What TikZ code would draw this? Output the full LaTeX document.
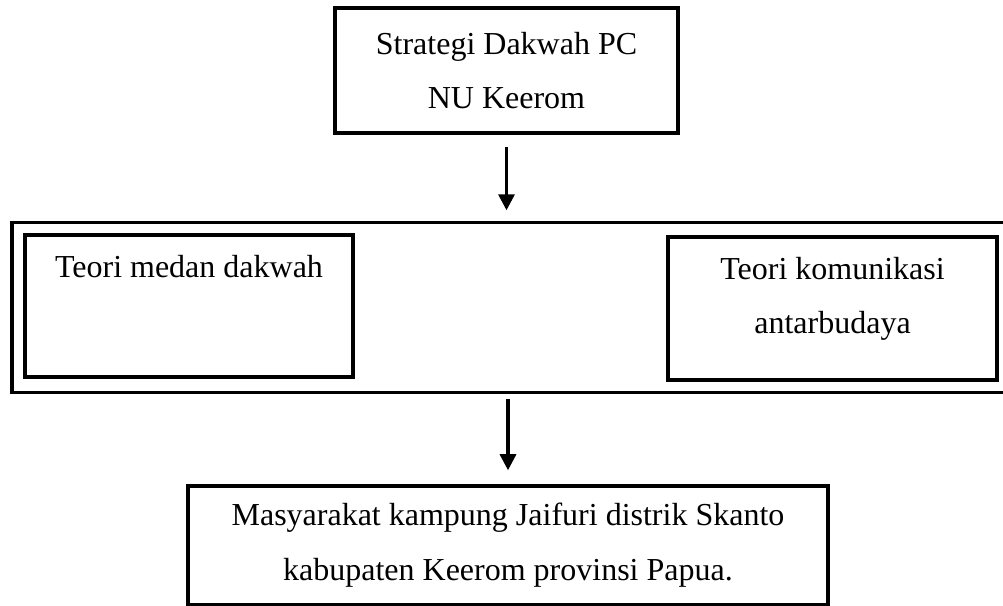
\documentclass[tikz,border=0pt]{standalone}
\usepackage{fontspec}
\setmainfont{Liberation Serif}
\usetikzlibrary{arrows.meta,positioning}
\tikzset{
  box/.style={draw, line width=1.35pt, inner sep=0pt, align=center,
    font=\fontsize{12}{20}\selectfont},
  txt/.style={inner sep=0pt, align=center, font=\fontsize{12}{20}\selectfont},
  arr/.style={-{Triangle[length=6pt,width=6pt]}, line width=1.2pt},
}
\begin{document}
\begin{tikzpicture}[x=0.375pt,y=-0.375pt]
	\useasboundingbox (0,0) rectangle (1003,606);
	% top
	\node[box, minimum width=128.6pt, minimum height=46.9pt] (strategi) at (506.5,70.5)
		{Strategi Dakwah PC\\NU Keerom};
	% frame with the two theories
	\node[box, minimum width=378pt, minimum height=63.75pt] (teori) at (516,307.5) {};
	\node[box, minimum width=123pt, minimum height=53.25pt] (medan) at (189,306) {};
	\node[box, minimum width=123.4pt, minimum height=53.6pt] (komunikasi) at (832.5,308.5) {};
	\node[txt, anchor=base] (medantxt) at (189,277) {Teori medan dakwah};
	\node[txt, anchor=north] (komunikasitxt) at (832.5,257) {Teori komunikasi\\antarbudaya};
	% bottom
	\node[box, minimum width=240pt, minimum height=44.6pt,
		font=\fontsize{12}{20.6}\selectfont] (masyarakat) at (508,545.5)
		{Masyarakat kampung Jaifuri distrik Skanto\\kabupaten Keerom provinsi Papua.};
	\draw[arr, shorten <=4.5pt, shorten >=3.9pt] (strategi.south) -- (strategi.south |- teori.north);
	\draw[arr, shorten <=1.7pt, shorten >=5.25pt] (masyarakat.north |- teori.south) -- (masyarakat.north);
\end{tikzpicture}
\end{document}
